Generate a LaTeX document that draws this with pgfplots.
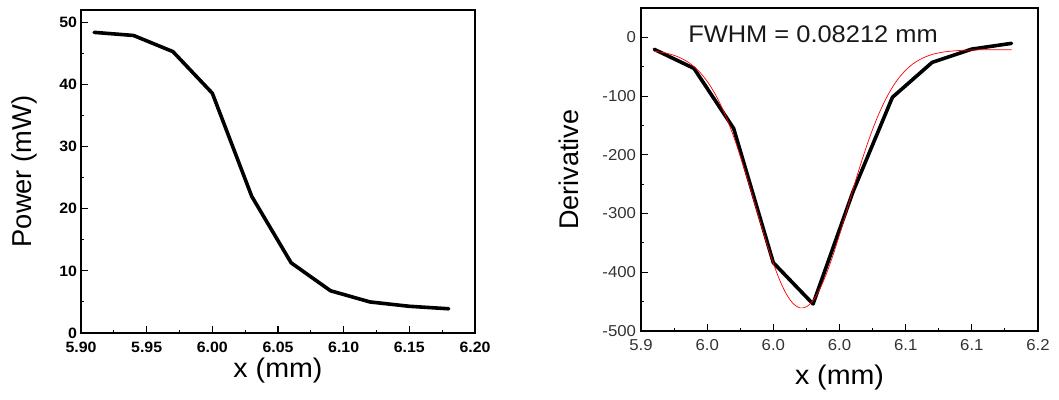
\documentclass[border=0pt]{standalone}
\usepackage{fontspec}
\setmainfont{Liberation Sans}[FakeStretch=1.06]
\newfontfamily\plainfont{Liberation Sans}
\usepackage{pgfplots}
\pgfplotsset{compat=1.18}
\begin{document}
\begin{tikzpicture}
\useasboundingbox (0,0) rectangle (1059bp,400bp);
% ---------------- left panel ----------------
\begin{axis}[
  at={(81bp,67bp)}, anchor=south west,
  width=394bp, height=323bp, scale only axis,
  xmin=5.90, xmax=6.20, ymin=0, ymax=52,
  xtick={5.90,5.95,6.00,6.05,6.10,6.15,6.20},
  xticklabels={5.90,5.95,6.00,6.05,6.10,6.15,6.20},
  ytick={0,10,20,30,40,50},
  yticklabels={0,10,20,30,40,50},
  minor x tick num=1, minor y tick num=1,
  tick align=inside, xtick pos=bottom, ytick pos=left,
  major tick length=6.5bp, minor tick length=3.3bp,
  axis line style={line width=1.3bp},
  every tick/.style={line width=1.1bp, black},
  ticklabel style={font=\fontsize{15bp}{17bp}\selectfont\bfseries, black},
  xticklabel style={yshift=-5.5bp},
  yticklabel style={xshift=-0.5bp},
  xlabel={x (mm)}, ylabel={Power (mW)},
  xlabel style={font=\fontsize{27bp}{30bp}\selectfont, at={(axis description cs:0.5,-0.116)}, anchor=center},
  ylabel style={font=\plainfont\fontsize{27.3bp}{30bp}\selectfont, at={(axis description cs:-0.1447,0.5)}, anchor=center},
]
\addplot[black, line width=3.6bp, line join=round, line cap=round] coordinates {
  (5.91,48.4) (5.94,47.9) (5.97,45.3) (6.00,38.6) (6.03,22.0)
  (6.06,11.3) (6.09,6.8) (6.12,5.0) (6.15,4.3) (6.18,3.9)
};
\end{axis}
% ---------------- right panel ----------------
\begin{axis}[
  at={(641bp,69bp)}, anchor=south west,
  width=397bp, height=323bp, scale only axis,
  xmin=5.90, xmax=6.20, ymin=-500, ymax=50,
  xtick={5.90,5.95,6.00,6.05,6.10,6.15,6.20},
  xticklabels={5.9,6.0,6.0,6.0,6.1,6.1,6.2},
  ytick={-500,-400,-300,-200,-100,0},
  yticklabels={-500,-400,-300,-200,-100,0},
  minor x tick num=1, minor y tick num=1,
  tick align=inside, xtick pos=bottom, ytick pos=left,
  major tick length=6.5bp, minor tick length=3.3bp,
  axis line style={line width=1.3bp},
  every tick/.style={line width=1.1bp, black},
  ticklabel style={font=\fontsize{15.8bp}{18bp}\selectfont, black!80},
  xticklabel style={yshift=-4.5bp},
  yticklabel style={xshift=-1.5bp},
  xlabel={x (mm)}, ylabel={Derivative},
  xlabel style={font=\fontsize{27bp}{30bp}\selectfont, at={(axis description cs:0.5,-0.143)}, anchor=center},
  ylabel style={font=\plainfont\fontsize{27bp}{30bp}\selectfont, at={(axis description cs:-0.1814,0.5)}, anchor=center},
]
\addplot[black, line width=3.6bp, line join=round, line cap=round] coordinates {
  (5.91,-20.4) (5.94,-52.8) (5.97,-155) (6.00,-383.7) (6.03,-454)
  (6.06,-264) (6.09,-102) (6.12,-42.6) (6.15,-20) (6.18,-10.2)
};
\addplot[red, line width=0.7bp, smooth] coordinates {
  (5.910,-23.7) (5.915,-25.2) (5.920,-27.4) (5.925,-30.6) (5.930,-35.1)
  (5.935,-41.3) (5.940,-49.7) (5.945,-60.7) (5.950,-74.8) (5.955,-92.4)
  (5.960,-113.9) (5.965,-139.4) (5.970,-168.9) (5.975,-201.9) (5.980,-237.7)
  (5.985,-275.5) (5.990,-313.6) (5.995,-350.7) (6.000,-384.8) (6.005,-414.4)
  (6.010,-437.7) (6.015,-453.4) (6.020,-460.6) (6.025,-458.8) (6.030,-448.1)
  (6.035,-429.2) (6.040,-403.2) (6.045,-371.6) (6.050,-336.1) (6.055,-298.4)
  (6.060,-260.2) (6.065,-223.1) (6.070,-188.3) (6.075,-156.7) (6.080,-128.8)
  (6.085,-104.9) (6.090,-84.9) (6.095,-68.7) (6.100,-55.9) (6.105,-46.0)
  (6.110,-38.6) (6.115,-33.1) (6.120,-29.1) (6.125,-26.4) (6.130,-24.5)
  (6.140,-22.4) (6.150,-21.5) (6.160,-21.1) (6.180,-21.0)
};
\node[font=\fontsize{24bp}{27bp}\selectfont, black!90, anchor=center]
  at (axis cs:6.030,5) {FWHM = 0.08212 mm};
\end{axis}
\end{tikzpicture}
\end{document}
